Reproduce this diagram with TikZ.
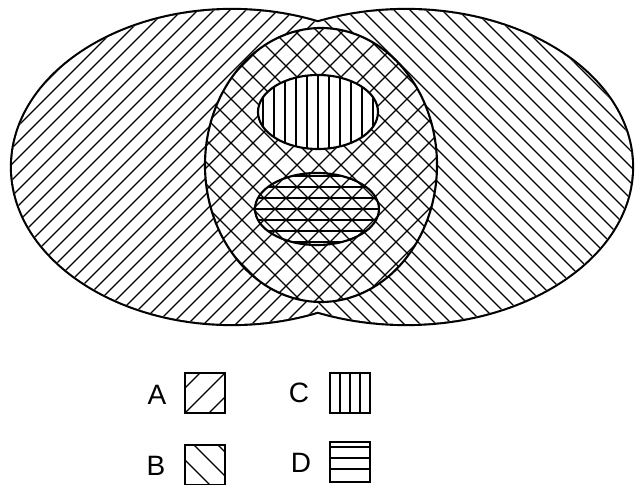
\documentclass[tikz,border=0pt]{standalone}
\usepackage{fontspec}
\setmainfont{Liberation Sans}
\usetikzlibrary{positioning}

\tikzset{
	outline/.style={line width=1.6pt},
	hatch/.style={line width=0.85pt},
	legbox/.style={draw, line width=1.4pt, minimum size=30pt, inner sep=0pt},
	lbl/.style={font=\fontsize{21}{24}\selectfont, inner sep=0pt},
}

\begin{document}
\begin{tikzpicture}[x=0.75pt,y=0.75pt,yscale=-1,xscale=1]
	\useasboundingbox (0,0) rectangle (640,485);
	
	%Shape: outer outline of both ellipses (inner half covered by the white fill)
	\draw [line width=3.2pt] (232,167) ellipse (220 and 157) (406,167) ellipse (226 and 157);
	\fill [white] (232,167) ellipse (220 and 157) (406,167) ellipse (226 and 157);
	
	%Hatch: set A, left part
	\begin{scope}
		\clip (0,0) rectangle (318,485);
		\clip (232,167) ellipse (220 and 157);
		\foreach \c in {0,16,...,800} \draw [hatch] (\c,0) -- (\c-485,485);
	\end{scope}
	%Hatch: set B, right part
	\begin{scope}
		\clip (318,0) rectangle (640,485);
		\clip (406,167) ellipse (226 and 157);
		\foreach \c in {-176,-160,...,640} \draw [hatch] (\c,0) -- (\c+485,485);
	\end{scope}
	
	%Shape: middle circle, cross hatched
	\fill [white] (321,165) ellipse (116 and 137);
	\begin{scope}
		\clip (321,165) ellipse (116 and 137);
		\foreach \c in {176,198,...,800} \draw [hatch] (\c,0) -- (\c-485,485);
		\foreach \c in {-176,-154,...,460} \draw [hatch] (\c,0) -- (\c+485,485);
	\end{scope}
	\draw [outline] (321,165) ellipse (116 and 137);
	
	%Shape: set C, vertical lines
	\fill [white] (318,112) ellipse (60 and 37);
	\begin{scope}
		\clip (318,112) ellipse (60 and 37);
		\foreach \x in {263,274,...,373} \draw [line width=1.1pt] (\x,70) -- (\x,155);
	\end{scope}
	\draw [outline] (318,112) ellipse (60 and 37);
	
	%Shape: set D, horizontal lines
	\begin{scope}
		\clip (317,209) ellipse (62 and 36);
		\foreach \y in {176,187,...,242} \draw [line width=1.2pt] (250,\y) -- (385,\y);
	\end{scope}
	\draw [outline] (317,209) ellipse (62 and 36);
	
	%Legend boxes
	\node [legbox] (boxA) at (205,393) {};
	\node [legbox] (boxB) at (205,465) {};
	\node [legbox] (boxC) at (350,393) {};
	\node [legbox] (boxD) at (350,462) {};
	\begin{scope}
		\clip (boxA.south west) rectangle (boxA.north east);
		\foreach \c in {573,598,622} \draw [hatch] (\c-373,373) -- (\c-413,413);
	\end{scope}
	\begin{scope}
		\clip (boxB.south west) rectangle (boxB.north east);
		\foreach \c in {227,251,275} \draw [hatch] (445-\c,445) -- (485-\c,485);
	\end{scope}
	\foreach \x in {340,350,360} \draw [line width=1.1pt] (\x,373) -- (\x,413);
	\foreach \y in {447,458,469} \draw [line width=1.1pt] (330,\y) -- (370,\y);
	
	% Text Node
	\node [lbl] (labA) at (157,395) {A};
	\node [lbl] (labB) at (156,466) {B};
	\node [lbl] (labC) at (299,393) {C};
	\node [lbl] (labD) at (301,463) {D};
	
\end{tikzpicture}
\end{document}
